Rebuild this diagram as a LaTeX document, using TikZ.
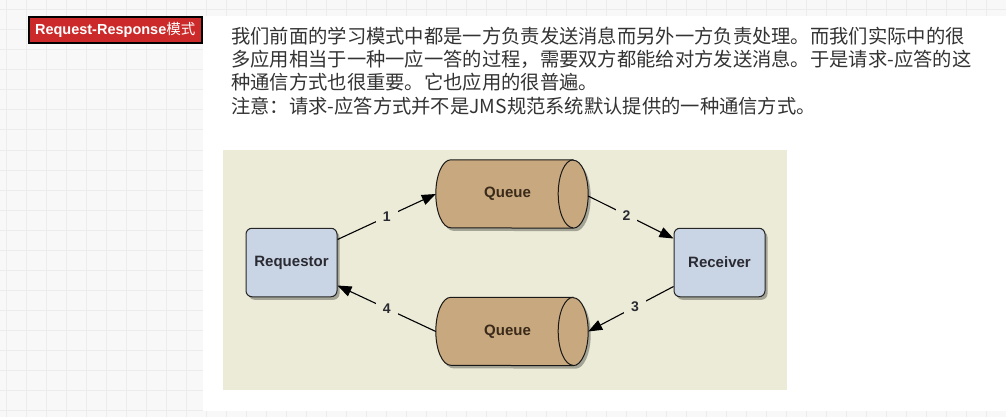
\documentclass[tikz,border=0pt]{standalone}
\usepackage{fontspec}
\setmainfont{Liberation Sans}
\newfontfamily\cjk{Noto Sans CJK SC}
\usetikzlibrary{arrows.meta,shadows,calc}
\definecolor{gridbg}{HTML}{F8F8F8}
\definecolor{gridln}{HTML}{ECECEC}
\definecolor{panel}{HTML}{ECEBD7}
\definecolor{boxfill}{HTML}{C9D5E4}
\definecolor{qfill}{HTML}{C8A87E}
\definecolor{labred}{HTML}{CC2A2A}
\definecolor{txt}{HTML}{333333}
\definecolor{qtxt}{HTML}{3A2A1A}
\definecolor{dtxt}{HTML}{2A2A33}
\pgfdeclarelayer{background}
\pgfsetlayers{background,main}
\tikzset{
  tag/.style={draw=black, line width=2pt, fill=labred, text=white, inner sep=0pt,
    minimum width=173pt, minimum height=26pt, font=\bfseries\fontsize{14.5}{16}\selectfont},
  para/.style={anchor=base west, inner sep=0pt, text=txt, font=\cjk\fontsize{19.3}{23}\selectfont},
  actor/.style={draw=black!85, fill=boxfill, rounded corners=6pt, line width=1pt,
    minimum width=91pt, minimum height=68.5pt, text=dtxt,
    font=\bfseries\fontsize{15}{16}\selectfont,
    drop shadow={shadow xshift=2.5pt, shadow yshift=-3pt, opacity=0.3, fill=black}},
  qnode/.style={minimum width=152pt, minimum height=68pt, inner sep=0pt, text=qtxt,
    font=\bfseries\fontsize{15}{16}\selectfont},
  qbody/.style={draw=black!90, fill=qfill, line width=1pt,
    drop shadow={shadow xshift=2.5pt, shadow yshift=-3pt, opacity=0.3, fill=black}},
  qcap/.style={draw=black!90, line width=1pt},
  flow/.style={-{Triangle[length=14pt,width=10.5pt]}, line width=1.1pt, draw=black},
  num/.style={fill=panel, inner xsep=7pt, inner ysep=5pt, text=dtxt,
    font=\bfseries\fontsize{14}{15}\selectfont}
}
\newcommand\queueshape[1]{%
  \path[qbody] ($(#1.north east)+(-15,0)$) -- ($(#1.north west)+(15,0)$)
    arc[start angle=90, end angle=270, x radius=15pt, y radius=34pt]
    -- ($(#1.south east)+(-15,0)$)
    arc[start angle=-90, end angle=90, x radius=15pt, y radius=34pt] -- cycle;
  \draw[qcap] ($(#1.north east)+(-15,0)$)
    arc[start angle=90, end angle=270, x radius=15pt, y radius=34pt];
}
\begin{document}
\begin{tikzpicture}[x=1pt,y=-1pt]
\useasboundingbox (0,0) rectangle (1006,417);
\begin{pgfonlayer}{background}
  \fill[gridbg] (0,0) rectangle (1006,417);
  \foreach \x in {6,26,...,1006} \draw[gridln, line width=1pt] (\x,0) -- (\x,417);
  \foreach \y in {10,30,...,417} \draw[gridln, line width=1pt] (0,\y) -- (1006,\y);
  \fill[white] (203,16) rectangle (1006,411);
  \fill[panel] (223,150) rectangle (787,390);
\end{pgfonlayer}

\node[tag] (title) at (115.2,30) {Request-Response{\cjk\mdseries 模式}};

\node[para] (l1) at (231,43.4) {我们前面的学习模式中都是一方负责发送消息而另外一方负责处理。而我们实际中的很};
\node[para] (l2) at (231,66.8) {多应用相当于一种一应一答的过程，需要双方都能给对方发送消息。于是请求-应答的这};
\node[para] (l3) at (231,90.0) {种通信方式也很重要。它也应用的很普遍。};
\node[para] (l4) at (231,113.2) {注意：请求-应答方式并不是JMS规范系统默认提供的一种通信方式。};

\node[actor] (req) at (291.5,262.5) {Requestor};
\node[actor] (rec) at (719.5,262.5) {Receiver};

\node[qnode] (q1) at (512,194) {Queue\hspace*{9pt}};
\node[qnode] (q2) at (512,331.5) {Queue\hspace*{9pt}};
\begin{pgfonlayer}{background}
  \queueshape{q1}
  \queueshape{q2}
\end{pgfonlayer}

\draw[flow] ([yshift=23pt]req.east) -- node[num] (n1) {1} (q1.west);
\draw[flow] ([yshift=-2pt]q1.east) -- node[num, pos=0.45] (n2) {2} ([yshift=24pt]rec.west);
\draw[flow] ([yshift=-24pt]rec.west) -- node[num, pos=0.45] (n3) {3} (q2.east);
\draw[flow] (q2.west) -- node[num] (n4) {4} ([yshift=-23pt]req.east);
\end{tikzpicture}
\end{document}
